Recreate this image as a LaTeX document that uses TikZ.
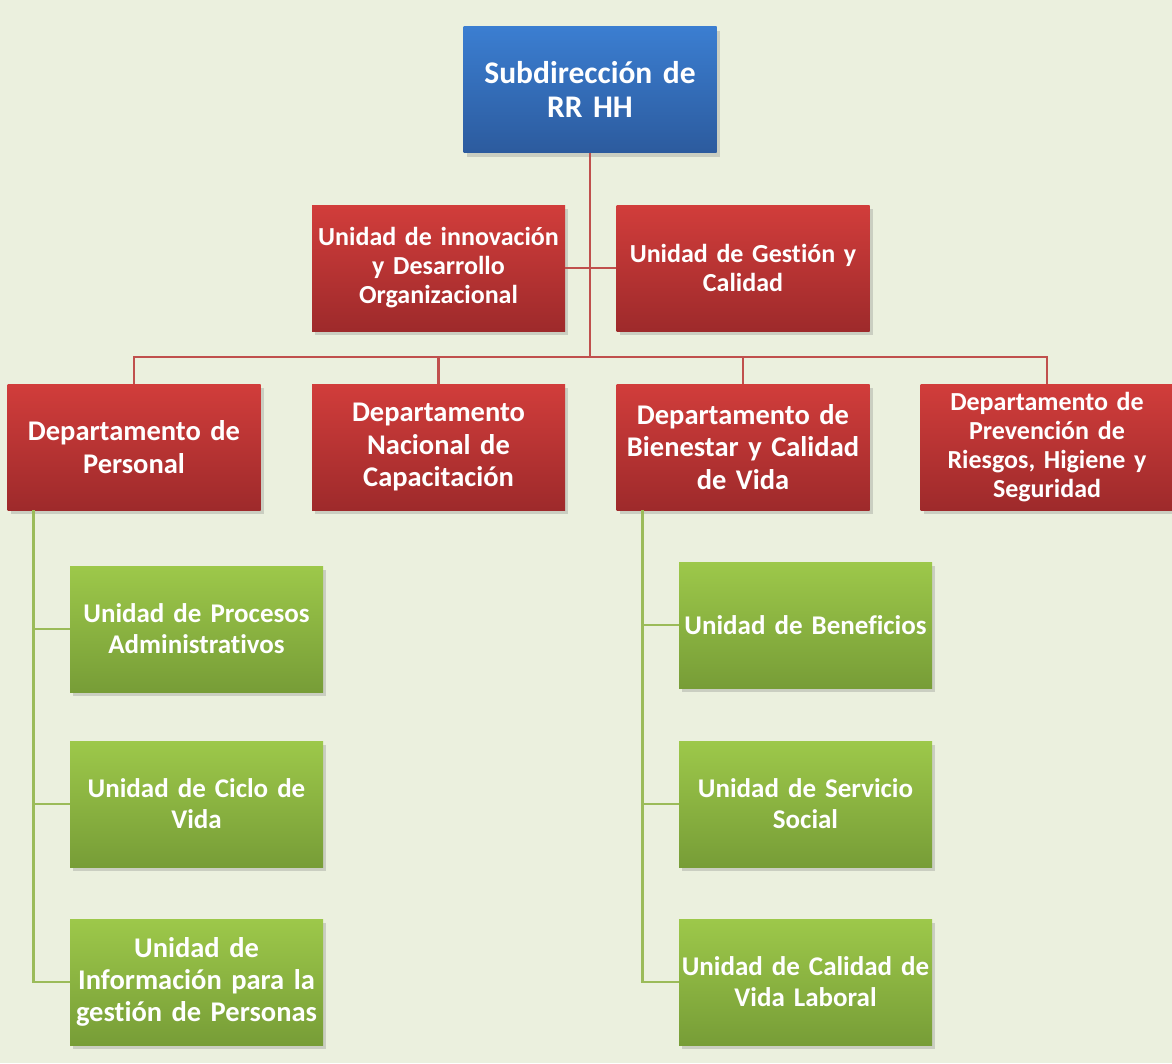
\documentclass[tikz,border=0pt]{standalone}
\usepackage{fontspec}
\setmainfont[RawFeature={-liga}]{Carlito}
\usetikzlibrary{shadows}

\definecolor{bgpage}{RGB}{235,240,222}
\definecolor{bluetop}{RGB}{59,126,209}
\definecolor{bluebot}{RGB}{44,91,158}
\definecolor{redtop}{RGB}{209,61,59}
\definecolor{redbot}{RGB}{158,42,43}
\definecolor{greentop}{RGB}{157,200,74}
\definecolor{greenbot}{RGB}{119,157,55}
\definecolor{redline}{RGB}{192,80,77}
\definecolor{greenline}{RGB}{155,187,89}

\begin{document}
\begin{tikzpicture}[x=1pt, y=-1pt,
    every node/.style={rectangle, minimum width=253pt, minimum height=126pt,
        inner xsep=0pt, text width=253pt, align=center, text=white,
        drop shadow={shadow xshift=3pt, shadow yshift=-4pt, opacity=0.3}},
    head/.style={top color=bluetop, bottom color=bluebot, font=\bfseries\fontsize{31.5}{34}\selectfont},
    staff/.style={top color=redtop, bottom color=redbot, font=\bfseries\fontsize{26}{29}\selectfont},
    dept/.style={top color=redtop, bottom color=redbot, font=\bfseries\fontsize{28.5}{32.5}\selectfont},
    unit/.style={top color=greentop, bottom color=greenbot, font=\bfseries\fontsize{27}{31}\selectfont},
    redwire/.style={draw=redline, line width=2.2pt},
    greenwire/.style={draw=greenline, line width=2.4pt}]

\fill[bgpage] (0,0) rectangle (1172,1063);
\useasboundingbox (0,0) rectangle (1172,1063);

% Subdireccion and staff units

\node[head] (sub) at (590,89.5) {Subdirección de\\RR HH};
\node[staff] (innov) at (438.5,268) {Unidad de innovación\\y Desarrollo\\Organizacional};
\node[staff] (gest) at (743,268) {Unidad de Gestión y\\Calidad};

% Departamentos

\node[dept] (per) at (134,447) {Departamento de\\Personal};
\node[dept] (nac) at (438.5,447) {Departamento\\Nacional de\\Capacitación};
\node[dept] (bie) at (743,447) {Departamento de\\Bienestar y Calidad\\de Vida};
\node[dept, font=\bfseries\fontsize{26}{29}\selectfont] (prev) at (1047,447)
    {Departamento de\\Prevención de\\Riesgos, Higiene y\\Seguridad};

% Unidades

\node[unit] (proc) at (196.5,629) {Unidad de Procesos\\Administrativos};
\node[unit] (ciclo) at (196.5,804) {Unidad de Ciclo de\\Vida};
\node[unit, font=\bfseries\fontsize{28.5}{32}\selectfont] (info) at (196.5,982)
    {Unidad de\\Información para la\\gestión de Personas};
\node[unit] (benef) at (805.5,625) {Unidad de Beneficios};
\node[unit] (serv) at (805.5,804) {Unidad de Servicio\\Social};
\node[unit] (lab) at (805.5,982) {Unidad de Calidad de\\Vida Laboral};

\coordinate (bus) at (590,357);

\draw[redwire] (sub) -- (bus);
\draw[redwire] (innov) -- (gest);
\foreach \d in {per, nac, bie, prev}
    \draw[redwire] (bus) -| (\d.north);

\foreach \u in {proc, ciclo, info}
    \draw[greenwire] ([xshift=26pt]per.south west) |- (\u.west);
\foreach \u in {benef, serv, lab}
    \draw[greenwire] ([xshift=26pt]bie.south west) |- (\u.west);

\end{tikzpicture}
\end{document}
